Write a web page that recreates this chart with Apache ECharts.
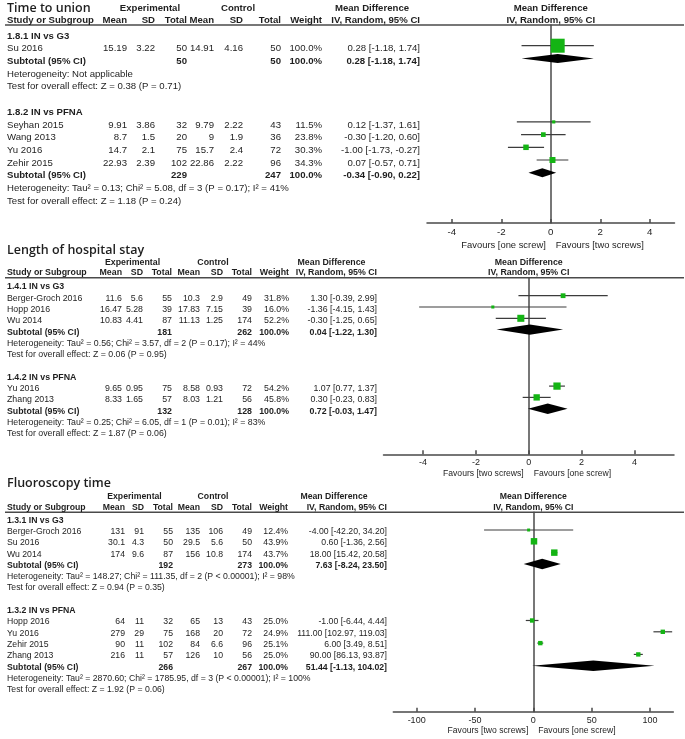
<!DOCTYPE html>
<html><head><meta charset="utf-8">
<script src="https://cdn.jsdelivr.net/npm/echarts@6/dist/echarts.min.js"></script>
<style>html,body{margin:0;padding:0;background:#fff}#c{width:685px;height:739px}</style>
</head><body><div id="c"></div>
<script>
// ================= DATA =================
// Column headings
const groupHeads = ['Experimental', 'Control', 'Mean Difference'];
const colHeads = ['Mean', 'SD', 'Total', 'Mean', 'SD', 'Total', 'Weight'];
const studyHead = 'Study or Subgroup';
const mdHead = 'IV, Random, 95% CI';

// Panel 1: Time to union
const unionTitle = 'Time to union';
const unionSubgroups = ['1.8.1 IN vs G3', '1.8.2 IN vs PFNA'];
const unionStudies = ['Su 2016', 'Seyhan 2015', 'Wang 2013', 'Yu 2016', 'Zehir 2015'];
const unionGroup = [0, 1, 1, 1, 1];
const unionExp = [['15.19', '3.22', '50'], ['9.91', '3.86', '32'], ['8.7', '1.5', '20'], ['14.7', '2.1', '75'], ['22.93', '2.39', '102']];
const unionCtrl = [['14.91', '4.16', '50'], ['9.79', '2.22', '43'], ['9', '1.9', '36'], ['15.7', '2.4', '72'], ['22.86', '2.22', '96']];
const unionWeight = [100.0, 11.5, 23.8, 30.3, 34.3];
const unionMD = [0.28, 0.12, -0.30, -1.00, 0.07];
const unionLo = [-1.18, -1.37, -1.20, -1.73, -0.57];
const unionHi = [1.74, 1.61, 0.60, -0.27, 0.71];
const unionSubN = [[50, 50], [229, 247]];
const unionSubWeight = [100.0, 100.0];
const unionSubMD = [0.28, -0.34];
const unionSubLo = [-1.18, -0.90];
const unionSubHi = [1.74, 0.22];
const unionHet = ['Heterogeneity: Not applicable', 'Heterogeneity: Tau² = 0.13; Chi² = 5.08, df = 3 (P = 0.17); I² = 41%'];
const unionTest = ['Test for overall effect: Z = 0.38 (P = 0.71)', 'Test for overall effect: Z = 1.18 (P = 0.24)'];
const unionTicks = [-4, -2, 0, 2, 4];
const unionFavours = ['Favours [one screw]', 'Favours [two screws]'];

// Panel 2: Length of hospital stay
const stayTitle = 'Length of hospital stay';
const staySubgroups = ['1.4.1 IN vs G3', '1.4.2 IN vs PFNA'];
const stayStudies = ['Berger-Groch 2016', 'Hopp 2016', 'Wu 2014', 'Yu 2016', 'Zhang 2013'];
const stayGroup = [0, 0, 0, 1, 1];
const stayExp = [['11.6', '5.6', '55'], ['16.47', '5.28', '39'], ['10.83', '4.41', '87'], ['9.65', '0.95', '75'], ['8.33', '1.65', '57']];
const stayCtrl = [['10.3', '2.9', '49'], ['17.83', '7.15', '39'], ['11.13', '1.25', '174'], ['8.58', '0.93', '72'], ['8.03', '1.21', '56']];
const stayWeight = [31.8, 16.0, 52.2, 54.2, 45.8];
const stayMD = [1.30, -1.36, -0.30, 1.07, 0.30];
const stayLo = [-0.39, -4.15, -1.25, 0.77, -0.23];
const stayHi = [2.99, 1.43, 0.65, 1.37, 0.83];
const staySubN = [[181, 262], [132, 128]];
const staySubWeight = [100.0, 100.0];
const staySubMD = [0.04, 0.72];
const staySubLo = [-1.22, -0.03];
const staySubHi = [1.30, 1.47];
const stayHet = ['Heterogeneity: Tau² = 0.56; Chi² = 3.57, df = 2 (P = 0.17); I² = 44%', 'Heterogeneity: Tau² = 0.25; Chi² = 6.05, df = 1 (P = 0.01); I² = 83%'];
const stayTest = ['Test for overall effect: Z = 0.06 (P = 0.95)', 'Test for overall effect: Z = 1.87 (P = 0.06)'];
const stayTicks = [-4, -2, 0, 2, 4];
const stayFavours = ['Favours [two screws]', 'Favours [one screw]'];

// Panel 3: Fluoroscopy time
const fluoroTitle = 'Fluoroscopy time';
const fluoroSubgroups = ['1.3.1 IN vs G3', '1.3.2 IN vs PFNA'];
const fluoroStudies = ['Berger-Groch 2016', 'Su 2016', 'Wu 2014', 'Hopp 2016', 'Yu 2016', 'Zehir 2015', 'Zhang 2013'];
const fluoroGroup = [0, 0, 0, 1, 1, 1, 1];
const fluoroExp = [['131', '91', '55'], ['30.1', '4.3', '50'], ['174', '9.6', '87'], ['64', '11', '32'], ['279', '29', '75'], ['90', '11', '102'], ['216', '11', '57']];
const fluoroCtrl = [['135', '106', '49'], ['29.5', '5.6', '50'], ['156', '10.8', '174'], ['65', '13', '43'], ['168', '20', '72'], ['84', '6.6', '96'], ['126', '10', '56']];
const fluoroWeight = [12.4, 43.9, 43.7, 25.0, 24.9, 25.1, 25.0];
const fluoroMD = [-4.00, 0.60, 18.00, -1.00, 111.00, 6.00, 90.00];
const fluoroLo = [-42.20, -1.36, 15.42, -6.44, 102.97, 3.49, 86.13];
const fluoroHi = [34.20, 2.56, 20.58, 4.44, 119.03, 8.51, 93.87];
const fluoroSubN = [[192, 273], [266, 267]];
const fluoroSubWeight = [100.0, 100.0];
const fluoroSubMD = [7.63, 51.44];
const fluoroSubLo = [-8.24, -1.13];
const fluoroSubHi = [23.50, 104.02];
const fluoroHet = ['Heterogeneity: Tau² = 148.27; Chi² = 111.35, df = 2 (P < 0.00001); I² = 98%', 'Heterogeneity: Tau² = 2870.60; Chi² = 1785.95, df = 3 (P < 0.00001); I² = 100%'];
const fluoroTest = ['Test for overall effect: Z = 0.94 (P = 0.35)', 'Test for overall effect: Z = 1.92 (P = 0.06)'];
const fluoroTicks = [-100, -50, 0, 50, 100];
const fluoroFavours = ['Favours [two screws]', 'Favours [one screw]'];

// ================= LAYOUT / STYLE =================
const FONT = '"Liberation Sans", Arial, Helvetica, sans-serif';
const TITLE_FONT = '"Open Sans", "Liberation Sans", sans-serif';
const TXT = '#1e1e1e';
const GREEN = '#14b414';
const AXIS = '#4a4a4a';

const panels = [
  { title: unionTitle, subgroups: unionSubgroups, studies: unionStudies, group: unionGroup, exp: unionExp, ctrl: unionCtrl,
    weight: unionWeight, md: unionMD, lo: unionLo, hi: unionHi, subN: unionSubN, subW: unionSubWeight, subMD: unionSubMD,
    subLo: unionSubLo, subHi: unionSubHi, het: unionHet, test: unionTest, ticks: unionTicks, favours: unionFavours,
    L: { xMin: -5, xMax: 5, titleY: 8, titleFs: 12.5, h1Y: 8.5, h2Y: 20.5, lineY: 25, row0: 33, rowH: 12.7, textOff: 3,
         axisY: 223, left: 427, right: 674.5, fs: 9.6, tickFs: 9.7, favFs: 9.4, favY: 245, diamond: 4.5, sA: 1.8, sB: 0.122,
         cols: [127, 155, 187, 214, 243, 281, 322], mdRight: 420, expC: 150, ctrlC: 238, mdHeadC: 372 } },
  { title: stayTitle, subgroups: staySubgroups, studies: stayStudies, group: stayGroup, exp: stayExp, ctrl: stayCtrl,
    weight: stayWeight, md: stayMD, lo: stayLo, hi: stayHi, subN: staySubN, subW: staySubWeight, subMD: staySubMD,
    subLo: staySubLo, subHi: staySubHi, het: stayHet, test: stayTest, ticks: stayTicks, favours: stayFavours,
    L: { xMin: -5.5, xMax: 5.5, titleY: 250, titleFs: 12.5, h1Y: 262.5, h2Y: 273, lineY: 277.7, row0: 284.4, rowH: 11.3, textOff: 2.5,
         axisY: 454.3, left: 383.5, right: 674, fs: 8.8, tickFs: 9, favFs: 8.6, favY: 473.5, diamond: 5.2, sA: 1.3, sB: 0.11,
         cols: [122, 143, 172, 200, 223, 252, 289], mdRight: 377, expC: 132.5, ctrlC: 213, mdHeadC: 331.5 } },
  { title: fluoroTitle, subgroups: fluoroSubgroups, studies: fluoroStudies, group: fluoroGroup, exp: fluoroExp, ctrl: fluoroCtrl,
    weight: fluoroWeight, md: fluoroMD, lo: fluoroLo, hi: fluoroHi, subN: fluoroSubN, subW: fluoroSubWeight, subMD: fluoroSubMD,
    subLo: fluoroSubLo, subHi: fluoroSubHi, het: fluoroHet, test: fluoroTest, ticks: fluoroTicks, favours: fluoroFavours,
    L: { xMin: -120, xMax: 120, titleY: 483, titleFs: 12.5, h1Y: 497, h2Y: 507.5, lineY: 512.3, row0: 518.7, rowH: 11.31, textOff: 1.5,
         axisY: 711.7, left: 393.3, right: 673.3, fs: 8.7, tickFs: 9, favFs: 8.6, favY: 731, diamond: 5.3, sA: 1.6, sB: 0.111,
         cols: [125, 144, 173, 200, 223, 252, 288], mdRight: 387, expC: 134.5, ctrlC: 213, mdHeadC: 334 } }
];

function fmtMD(m, l, h) { return m.toFixed(2) + ' [' + l.toFixed(2) + ', ' + h.toFixed(2) + ']'; }

function buildRows(p) {
  const rows = [], marks = [];
  let r = 0;
  p.subgroups.forEach((g, gi) => {
    rows.push({ r, kind: 'heading', text: g }); r++;
    p.studies.forEach((s, si) => {
      if (p.group[si] !== gi) return;
      rows.push({ r, kind: 'study', cells: [s].concat(p.exp[si], p.ctrl[si], [p.weight[si].toFixed(1) + '%', fmtMD(p.md[si], p.lo[si], p.hi[si])]) });
      marks.push([p.md[si], r, p.lo[si], p.hi[si], p.weight[si], 0]);
      r++;
    });
    rows.push({ r, kind: 'subtotal', cells: ['Subtotal (95% CI)', '', '', String(p.subN[gi][0]), '', '', String(p.subN[gi][1]),
      p.subW[gi].toFixed(1) + '%', fmtMD(p.subMD[gi], p.subLo[gi], p.subHi[gi])] });
    marks.push([p.subMD[gi], r, p.subLo[gi], p.subHi[gi], p.subW[gi], 1]);
    r++;
    rows.push({ r, kind: 'note', text: p.het[gi] }); r++;
    rows.push({ r, kind: 'note', text: p.test[gi] }); r++;
    r++;
  });
  return { rows, marks };
}

const built = panels.map(buildRows);

const chart = echarts.init(document.getElementById('c'), null, { renderer: 'canvas' });

const grids = [], xAxes = [], yAxes = [], series = [];
panels.forEach((p, i) => {
  const L = p.L;
  grids.push({ left: L.left, top: L.lineY, width: L.right - L.left, height: L.axisY - L.lineY, containLabel: false });
  xAxes.push({
    gridIndex: i, type: 'value', min: L.xMin, max: L.xMax,
    axisLine: { show: true, onZero: false, lineStyle: { color: AXIS, width: 1.5 } },
    axisTick: { show: true, customValues: p.ticks, inside: true, length: 4, lineStyle: { color: AXIS, width: 1.5 } },
    axisLabel: { show: true, customValues: p.ticks, margin: 4, fontSize: L.tickFs, fontFamily: FONT, color: TXT },
    splitLine: { show: false }
  });
  yAxes.push({
    gridIndex: i, type: 'value', inverse: true,
    min: (L.lineY - L.row0) / L.rowH, max: (L.axisY - L.row0) / L.rowH,
    axisLine: { show: true, onZero: true, lineStyle: { color: AXIS, width: 1.5 } },
    axisTick: { show: false }, axisLabel: { show: false }, splitLine: { show: false }
  });
  series.push({
    type: 'custom', xAxisIndex: i, yAxisIndex: i, data: built[i].marks, clip: false,
    encode: { x: [0, 2, 3], y: 1 },
    renderItem: function (params, api) {
      const md = api.value(0), row = api.value(1), lo = api.value(2), hi = api.value(3), w = api.value(4), kind = api.value(5);
      const c = api.coord([md, row]), a = api.coord([lo, row]), b = api.coord([hi, row]);
      if (kind === 1) {
        const h = L.diamond;
        return { type: 'polygon', shape: { points: [[a[0], c[1]], [c[0], c[1] - h], [b[0], c[1]], [c[0], c[1] + h]] }, style: { fill: '#000' } };
      }
      const s = L.sA + L.sB * w;
      return { type: 'group', children: [
        { type: 'line', shape: { x1: a[0], y1: a[1], x2: b[0], y2: b[1] }, style: { stroke: '#3c3c3c', lineWidth: 1.2 } },
        { type: 'rect', shape: { x: c[0] - s / 2, y: c[1] - s / 2, width: s, height: s }, style: { fill: GREEN } }
      ] };
    }
  });
});

chart.setOption({ animation: false, backgroundColor: '#fff', grid: grids, xAxis: xAxes, yAxis: yAxes, series: series });

// ---- Table text (positioned from the row axis) ----
const gfx = [];
function txt(text, x, y, size, weight, align, family) {
  gfx.push({ type: 'text', x: x, y: y, silent: true, z: 10,
    style: { text: text, fill: TXT, font: (weight || 'normal') + ' ' + size + 'px ' + (family || FONT), align: align || 'left', verticalAlign: 'middle' } });
}
panels.forEach((p, i) => {
  const L = p.L;
  const zeroX = chart.convertToPixel({ xAxisIndex: i }, 0);
  const rowY = r => chart.convertToPixel({ yAxisIndex: i }, r) + L.textOff;
  // title
  txt(p.title, 7, L.titleY, L.titleFs, '600', 'left', TITLE_FONT);
  // header row 1
  txt(groupHeads[0], L.expC, L.h1Y, L.fs, 'bold', 'center');
  txt(groupHeads[1], L.ctrlC, L.h1Y, L.fs, 'bold', 'center');
  txt(groupHeads[2], L.mdHeadC, L.h1Y, L.fs, 'bold', 'center');
  txt(groupHeads[2], zeroX, L.h1Y, L.fs, 'bold', 'center');
  // header row 2
  txt(studyHead, 7, L.h2Y, L.fs, 'bold', 'left');
  colHeads.forEach((h, k) => txt(h, L.cols[k], L.h2Y, L.fs, 'bold', 'right'));
  txt(mdHead, L.mdRight, L.h2Y, L.fs, 'bold', 'right');
  txt(mdHead, zeroX, L.h2Y, L.fs, 'bold', 'center');
  // header rule
  gfx.push({ type: 'line', silent: true, z: 5, shape: { x1: 5, y1: L.lineY, x2: 684, y2: L.lineY }, style: { stroke: AXIS, lineWidth: 1.5 } });
  // rows
  built[i].rows.forEach(row => {
    const y = rowY(row.r);
    if (row.kind === 'heading') { txt(row.text, 7, y, L.fs, 'bold', 'left'); return; }
    if (row.kind === 'note') { txt(row.text, 7, y, L.fs, 'normal', 'left'); return; }
    const wt = row.kind === 'subtotal' ? 'bold' : 'normal';
    txt(row.cells[0], 7, y, L.fs, wt, 'left');
    for (let k = 1; k <= 7; k++) if (row.cells[k] !== '') txt(row.cells[k], L.cols[k - 1], y, L.fs, wt, 'right');
    txt(row.cells[8], L.mdRight, y, L.fs, wt, 'right');
  });
  // favours labels
  txt(p.favours[0], zeroX - 5, L.favY, L.favFs, 'normal', 'right');
  txt(p.favours[1], zeroX + 5, L.favY, L.favFs, 'normal', 'left');
});
chart.setOption({ graphic: { elements: gfx } });
</script>
</body></html>
